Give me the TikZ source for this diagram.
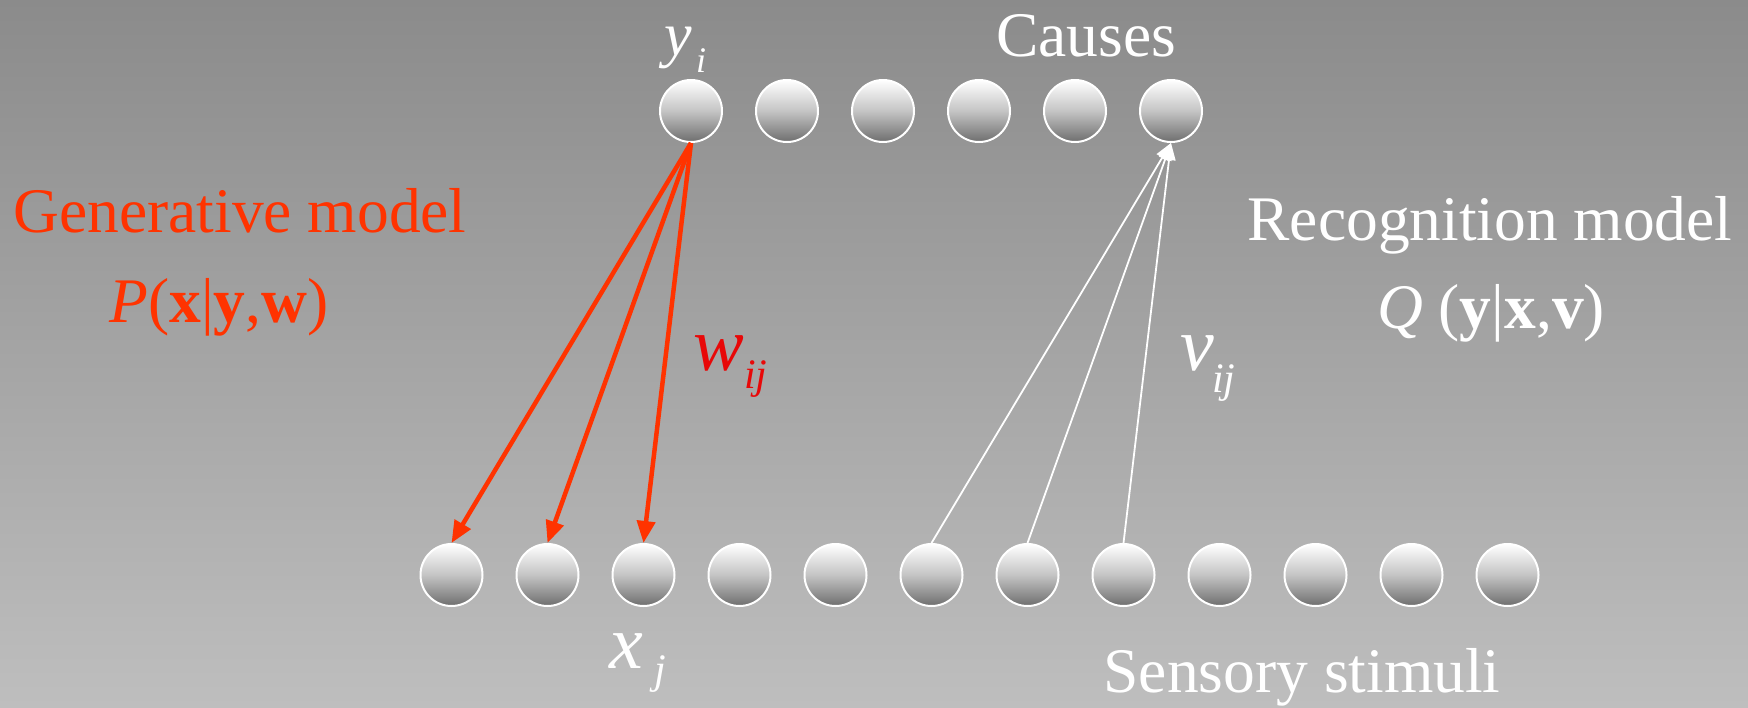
\documentclass[tikz,border=0pt]{standalone}
\usepackage{fontspec}
\setmainfont{Liberation Serif}
\usetikzlibrary{arrows.meta}
\definecolor{genred}{RGB}{255,51,0}
\definecolor{wred}{RGB}{232,8,8}
\definecolor{bgtop}{RGB}{139,139,139}
\definecolor{bgbot}{RGB}{190,190,190}
\definecolor{ballmid}{RGB}{196,196,196}
\definecolor{ballbot}{RGB}{110,110,110}
\begin{document}
\begin{tikzpicture}[x=1pt,y=1pt,
  ball/.style={circle, draw=white, line width=2pt, minimum size=62pt, inner sep=0pt,
    top color=white, bottom color=ballbot, middle color=ballmid},
  lbl/.style={anchor=base, inner sep=0pt, font=\fontsize{63.5}{63.5}\selectfont},
  var/.style={anchor=base west, inner sep=0pt, font=\fontsize{76}{76}\selectfont\itshape},
  sub/.style={anchor=base west, inner sep=0pt, font=\fontsize{42}{42}\selectfont\itshape},
  redarrow/.style={draw=genred, line width=4.5pt, -{Triangle[length=22pt,width=18pt]}},
  whitearrow/.style={draw=white, line width=1.8pt, -{Triangle[length=17pt,width=13pt]}}]
\useasboundingbox (0,0) rectangle (1748,-707);
\shade[top color=bgtop, bottom color=bgbot] (0,0) rectangle (1748,-707);
% units
\foreach \i in {1,...,6}
  \node[ball] (t\i) at ({691+96*(\i-1)},-111) {};
\foreach \i in {1,...,12}
  \node[ball] (b\i) at ({451.5+96*(\i-1)},-575) {};
% connectors
\draw[redarrow] (t1.south) -- (b1.north);
\draw[redarrow] (t1.south) -- (b2.north);
\draw[redarrow] (t1.south) -- (b3.north);
\draw[whitearrow] (b6.north) -- (t6.south);
\draw[whitearrow] (b7.north) -- (t6.south);
\draw[whitearrow] (b8.north) -- (t6.south);
% labels
\node[lbl, text=white] (causes) at (1086,-56) {Causes};
\node[lbl, text=white] (sensory) at (1302,-692) {Sensory stimuli};
\node[lbl, text=genred] (gen) at (240,-232) {Generative model};
\node[lbl, text=genred] (pform) at (219,-322) {\textit{P}(\textbf{x}|\textbf{y},\textbf{w})};
\node[lbl, text=white] (rec) at (1490,-240) {Recognition model};
\node[lbl, text=white] (qform) at (1491,-328) {\textit{Q} (\textbf{y}|\textbf{x},\textbf{v})};
% variables
\node[var, text=white, font=\fontsize{62}{62}\selectfont\itshape] (yv) at (664,-55) {y};
\node[sub, text=white, font=\fontsize{36}{36}\selectfont\itshape] (ys) at (696,-72) {i};
\node[var, text=white] (xv) at (609,-668) {x};
\node[sub, text=white] (xs) at (654,-683) {j};
\node[var, text=wred] (wv) at (693,-370) {w};
\node[sub, text=wred] (ws) at (744,-388) {ij};
\node[var, text=white] (vv) at (1180,-370) {v};
\node[sub, text=white] (vs) at (1212,-392) {ij};
\end{tikzpicture}
\end{document}
